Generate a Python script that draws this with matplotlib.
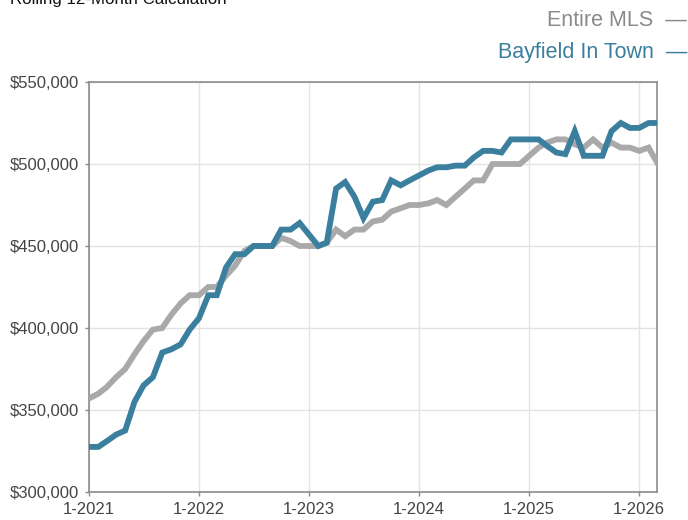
import numpy as np
import pandas as pd
import matplotlib
matplotlib.use("Agg")
import matplotlib.pyplot as plt

plt.rcParams['font.family'] = ['Liberation Sans', 'DejaVu Sans']

# monthly rolling 12-month values, Jan 2021 .. Mar 2026
months = pd.date_range("2021-01-01", "2026-03-01", freq="MS")

entire_mls = [357000, 360000, 364000, 370000, 375000, 384000, 392000, 399000, 400000, 408000, 415000, 420000,
              420000, 425000, 425000, 432000, 438000, 447000, 450000, 450000, 450000, 455000, 453000, 450000,
              450000, 450000, 452000, 460000, 456000, 460000, 460000, 465000, 466000, 471000, 473000, 475000,
              475000, 476000, 478000, 475000, 480000, 485000, 490000, 490000, 500000, 500000, 500000, 500000,
              505000, 510000, 513000, 515000, 515000, 512000, 510000, 515000, 510000, 513000, 510000, 510000,
              508000, 510000, 501000]

bayfield = [327500, 327500, 331000, 335000, 337500, 355000, 365000, 370000, 385000, 387000, 390000, 399000,
            406000, 420000, 420000, 437000, 445000, 445000, 450000, 450000, 450000, 460000, 460000, 464000,
            457000, 450000, 452000, 485000, 489000, 480000, 467000, 477000, 478000, 490000, 487000, 490000,
            493000, 496000, 498000, 498000, 499000, 499000, 504000, 508000, 508000, 507000, 515000, 515000,
            515000, 515000, 511000, 507000, 506000, 520000, 505000, 505000, 505000, 520000, 525000, 522000,
            522000, 525000, 525000]

y_ticks = [300000, 350000, 400000, 450000, 500000, 550000]
x_tick_years = [2021, 2022, 2023, 2024, 2025, 2026]
x_tick_labels = ["1-2021", "1-2022", "1-2023", "1-2024", "1-2025", "1-2026"]

gray_line = "#a9a9a9"
blue_line = "#3b7f9f"

fig = plt.figure(figsize=(6.88, 5.2), dpi=100)
ax = fig.add_axes([89 / 688, 28 / 520, 568 / 688, 410 / 520])

ax.plot(months, entire_mls, color=gray_line, lw=4.2, solid_joinstyle='miter', zorder=3)
ax.plot(months, bayfield, color=blue_line, lw=4.2, solid_joinstyle='miter', zorder=4)

ax.set_xlim(months[0], months[-1])
ax.set_ylim(300000, 550000)
ax.set_yticks(y_ticks)
ax.set_yticklabels([f"${v:,}" for v in y_ticks])
ax.set_xticks([pd.Timestamp(f"{y}-01-01") for y in x_tick_years])
ax.set_xticklabels(x_tick_labels)

ax.grid(True, color="#e3e3e3", lw=1, zorder=0)
for s in ax.spines.values():
    s.set_color("#8c8c8c")
    s.set_linewidth(1.2)
ax.tick_params(axis='both', colors="#8c8c8c", labelcolor="#444444", labelsize=12, length=3, width=1)
ax.tick_params(axis='x', pad=4)
ax.tick_params(axis='y', pad=4)

# title (cut off at the top of the image)
fig.text(10 / 688, 1 - 4 / 520, "Rolling 12-Month Calculation", fontsize=12.2, color="#111111",
         ha='left', va='baseline')

# legend text on the right
fig.text(1 - 1 / 688, 1 - 26 / 520, "Entire MLS  \u2014", fontsize=15.5, color="#8a8a8a",
         ha='right', va='baseline')
fig.text(1 - 1 / 688, 1 - 58 / 520, "Bayfield In Town  \u2014", fontsize=15.5, color="#3b7f9f",
         ha='right', va='baseline')

fig.savefig("out.png", dpi=100)
